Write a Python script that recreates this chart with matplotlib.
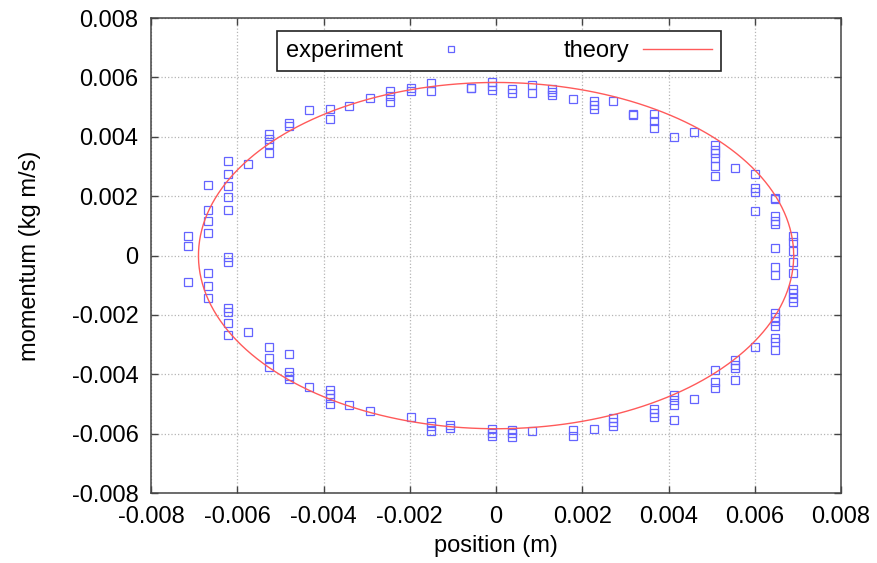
import matplotlib.pyplot as plt
import numpy as np

plt.rcParams['font.family'] = ['Liberation Sans', 'DejaVu Sans']

# experimental points, both in units of 1e-3 (m and kg m/s)
x_cols = [-7.14, -6.68, -6.22, -5.74, -5.27, -4.79, -4.33, -3.86, -3.40, -2.93,
          -2.45, -1.98, -1.52, -1.06, -0.58, -0.10, 0.36, 0.83, 1.30, 1.78,
          2.26, 2.71, 3.18, 3.65, 4.13, 4.60, 5.08, 5.54, 6.01, 6.47, 6.88]
p_cols = [
    [0.67, 0.33, -0.89],
    [2.38, 1.53, 1.16, 0.76, -0.58, -1.02, -1.44],
    [3.18, 2.74, 2.34, 1.97, 1.54, -0.05, -0.20, -1.78, -1.89, -2.28, -2.67],
    [3.07, -2.58],
    [4.11, 3.92, 3.75, 3.44, -3.07, -3.46, -3.74],
    [4.45, 4.35, -3.32, -3.93, -4.04, -4.15],
    [4.90, -4.41],
    [4.95, 4.59, -4.52, -4.66, -4.80, -4.99],
    [5.03, -5.03],
    [5.32, -5.23],
    [5.54, 5.37, 5.18],
    [5.63, 5.54, -5.45],
    [5.82, 5.53, -5.61, -5.75, -5.92],
    [-5.72, -5.81],
    [5.64, 5.66],
    [5.86, 5.70, 5.56, -5.83, -5.96, -6.09],
    [5.60, 5.47, -5.87, -5.98, -6.12],
    [5.73, 5.47, -5.89],
    [5.60, 5.50, 5.40],
    [5.26, -5.87, -6.07],
    [5.20, 5.08, 4.95, -5.83],
    [5.20, -5.47, -5.61, -5.75],
    [4.78, 4.75],
    [4.76, 4.52, 4.29, -5.17, -5.30, -5.45],
    [3.98, -4.69, -4.86, -5.03, -5.53],
    [4.16, -4.83],
    [3.71, 3.57, 3.44, 3.30, 3.03, 2.68, -3.85, -4.24, -4.46],
    [2.94, -3.51, -3.68, -3.79, -4.18],
    [2.75, 2.29, 2.14, 1.51, -3.07],
    [1.93, 1.90, 1.35, 1.16, 1.08, 0.26, -0.38, -0.66, -1.94, -2.06, -2.20,
     -2.37, -2.76, -2.90, -3.18],
    [0.67, 0.45, 0.15, -0.22, -0.60, -1.14, -1.27, -1.42, -1.55],
]

# theory ellipse half axes
x_amp = 6.9e-3
p_amp = 5.83e-3

ticks = [-0.008, -0.006, -0.004, -0.002, 0, 0.002, 0.004, 0.006, 0.008]
tick_labels = ['-0.008', '-0.006', '-0.004', '-0.002', '0',
               '0.002', '0.004', '0.006', '0.008']

x_exp = np.concatenate([[x] * len(p) for x, p in zip(x_cols, p_cols)]) * 1e-3
p_exp = np.concatenate(p_cols) * 1e-3

phase = np.linspace(0, 2 * np.pi, 400)
x_th = x_amp * np.cos(phase)
p_th = p_amp * np.sin(phase)

fs = 17

fig = plt.figure(figsize=(8.78, 5.63), dpi=100)
ax = fig.add_axes([0.172, 0.124, 0.786, 0.844])

ax.plot(x_exp, p_exp, 's', ms=5.8, mfc='none', mec='#6464ff', mew=0.9,
        label='experiment')
ax.plot(x_th, p_th, '-', color='#ff5a5a', lw=1.0, label='theory')

ax.set_xlim(-0.008, 0.008)
ax.set_ylim(-0.008, 0.008)
ax.set_xticks(ticks)
ax.set_xticklabels(tick_labels)
ax.set_yticks(ticks)
ax.set_yticklabels(tick_labels)
ax.tick_params(direction='in', length=5, width=1, labelsize=fs, pad=9,
               top=True, right=True, color='#444444')
ax.grid(True, linestyle=':', color='#b5b5b5', linewidth=0.9)
for s in ax.spines.values():
    s.set_color('#444444')
    s.set_linewidth(1.1)

ax.set_xlabel('position (m)', fontsize=fs, labelpad=5)
ax.set_ylabel('momentum (kg m/s)', fontsize=fs, labelpad=22)

# gnuplot-like key: text first, then sample, in one row
leg = ax.legend(loc='upper center', bbox_to_anchor=(0.504, 0.972),
                ncol=2, markerfirst=False, numpoints=1,
                fontsize=fs, handlelength=2.9, handletextpad=0.6,
                columnspacing=3.3, markerscale=0.8, fancybox=False,
                framealpha=1, borderaxespad=0, borderpad=0.38)
leg.get_frame().set_edgecolor('#222222')
leg.get_frame().set_linewidth(1.2)

fig.savefig('out.png', dpi=100)
